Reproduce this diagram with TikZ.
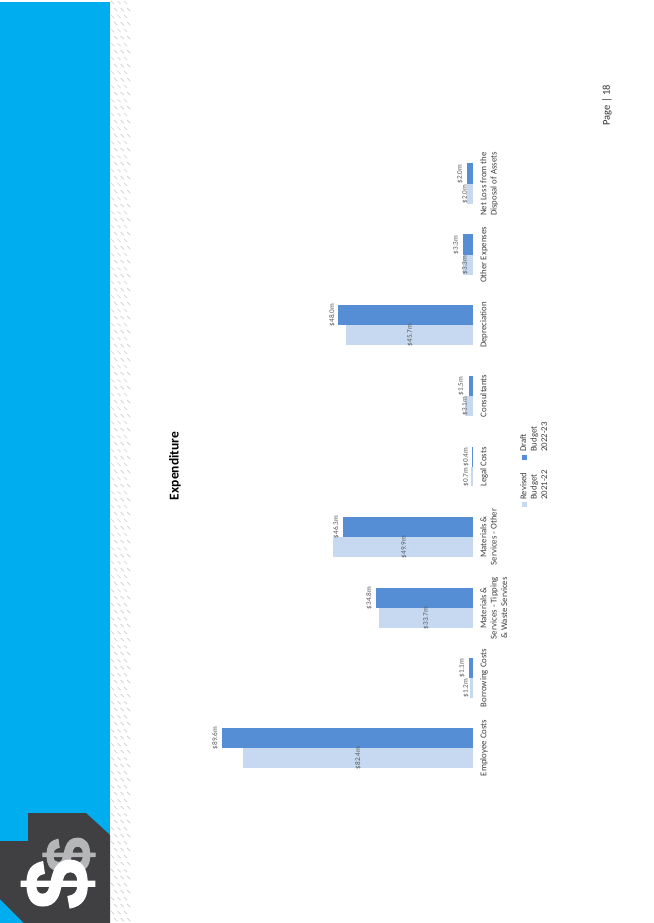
\documentclass[tikz,border=0pt]{standalone}
\usepackage{fontspec}
\setmainfont{Carlito}
\newfontfamily\dollarfont[FakeBold=1.5]{Liberation Sans}
\definecolor{stripeblue}{HTML}{00AEEF}
\definecolor{logodark}{HTML}{404042}
\definecolor{logogray}{HTML}{B5B6B8}
\definecolor{bardark}{HTML}{558ED5}
\definecolor{barlight}{HTML}{C6D9F1}
\definecolor{labelgray}{HTML}{595959}
\definecolor{hatchgray}{HTML}{CFCFCF}
\tikzset{
  darkbar/.style={fill=bardark},
  lightbar/.style={fill=barlight},
  vallabel/.style={rotate=90,inner sep=0pt,text=labelgray,font=\fontsize{7.2}{8}\selectfont},
  catlabel/.style={rotate=90,anchor=north,inner sep=0pt,align=center,text=black!75,font=\fontsize{8.8}{10.4}\selectfont},
  leglabel/.style={rotate=90,anchor=north west,inner sep=0pt,align=left,text=black!75,font=\fontsize{8.8}{10.4}\selectfont},
}
\begin{document}
\begin{tikzpicture}[x=1pt,y=-1pt]
\useasboundingbox (0,0) rectangle (653,923);
\fill[white] (0,0) rectangle (653,923);
% side band
\fill[stripeblue] (0,2) rectangle (110,923);
\foreach \r in {0,...,132}{
  \foreach \c in {0,...,2}{
    \draw[hatchgray,line width=0.7pt] ({111+\c*6.5+mod(\r,2)*3.2},{1+\r*7}) -- ++(3.2,3.2);
  }
}
% logo
\fill[logodark] (28,813) -- (86,813) -- (110,835) -- (110,923) -- (24,923) -- (0,899) -- (0,841) -- (28,841) -- cycle;
\node[rotate=90,inner sep=0pt,text=logogray,font=\dollarfont\bfseries\fontsize{64}{64}\selectfont] (dollarback) at (69,855) {\$};
\node[rotate=90,inner sep=0pt,text=white,font=\dollarfont\bfseries\fontsize{90}{90}\selectfont] (dollarfront) at (58,884) {\$};
% title and page
\node[rotate=90,inner sep=0pt,font=\bfseries\fontsize{13.5}{15}\selectfont] (title) at (175,466) {Expenditure};
\node[rotate=90,inner sep=0pt,text=black!80,font=\fontsize{10.5}{12}\selectfont] (page) at (607,105) {Page | 18};
% bars
\fill[darkbar] (222,728) rectangle (473,748);
\fill[lightbar] (243,748) rectangle (473,768);
\fill[darkbar] (469,658) rectangle (473,678);
\fill[lightbar] (470,678) rectangle (473,698);
\fill[darkbar] (376,588) rectangle (473,608);
\fill[lightbar] (379,608) rectangle (473,628);
\fill[darkbar] (343,517) rectangle (473,537);
\fill[lightbar] (333,537) rectangle (473,557);
\fill[darkbar] (471.5,447) rectangle (473,467);
\fill[lightbar] (471,467) rectangle (473,486);
\fill[darkbar] (468.5,376) rectangle (473,396);
\fill[lightbar] (465,396) rectangle (473,416);
\fill[darkbar] (338,305) rectangle (473,325);
\fill[lightbar] (346,325) rectangle (473,345);
\fill[darkbar] (463,234) rectangle (473,255);
\fill[lightbar] (463,255) rectangle (473,275);
\fill[darkbar] (467,163) rectangle (473,184);
\fill[lightbar] (467,184) rectangle (473,204);
% value labels
\node[vallabel] (v1a) at (358,758) {\$82.4m};
\node[vallabel] (v1b) at (215,738) {\$89.6m};
\node[vallabel] (v2a) at (466,688) {\$1.2m};
\node[vallabel] (v2b) at (462,668) {\$1.1m};
\node[vallabel] (v3a) at (426,618) {\$33.7m};
\node[vallabel] (v3b) at (369,598) {\$34.8m};
\node[vallabel] (v4a) at (404,547) {\$49.9m};
\node[vallabel] (v4b) at (336,527) {\$46.3m};
\node[vallabel] (v5a) at (466,477) {\$0.7m};
\node[vallabel] (v5b) at (466,457) {\$0.4m};
\node[vallabel] (v6a) at (465,406) {\$3.1m};
\node[vallabel] (v6b) at (461,386) {\$1.5m};
\node[vallabel] (v7a) at (410,335) {\$45.7m};
\node[vallabel] (v7b) at (332,315) {\$48.0m};
\node[vallabel] (v8a) at (465,265) {\$3.3m};
\node[vallabel] (v8b) at (456,245) {\$3.3m};
\node[vallabel] (v9a) at (465,194) {\$2.0m};
\node[vallabel] (v9b) at (460,174) {\$2.0m};
% category labels
\node[catlabel] (c1) at (480,748) {Employee Costs};
\node[catlabel] (c2) at (480,678) {Borrowing Costs};
\node[catlabel] (c3) at (480,608) {Materials \&\\Services - Tipping\\\& Waste Services};
\node[catlabel] (c4) at (480,537) {Materials \&\\Services - Other};
\node[catlabel] (c5) at (480,467) {Legal Costs};
\node[catlabel] (c6) at (480,396) {Consultants};
\node[catlabel] (c7) at (480,325) {Depreciation};
\node[catlabel] (c8) at (480,255) {Other Expenses};
\node[catlabel] (c9) at (480,184) {Net Loss from the\\Disposal of Assets};
% legend
\fill[barlight] (521.5,502) rectangle (526.5,507);
\fill[bardark] (521.5,454.5) rectangle (526.5,459.5);
\node[leglabel] (l1) at (520,500) {Revised\\Budget\\2021-22};
\node[leglabel] (l2) at (520,452) {Draft\\Budget\\2022-23};
\end{tikzpicture}
\end{document}
